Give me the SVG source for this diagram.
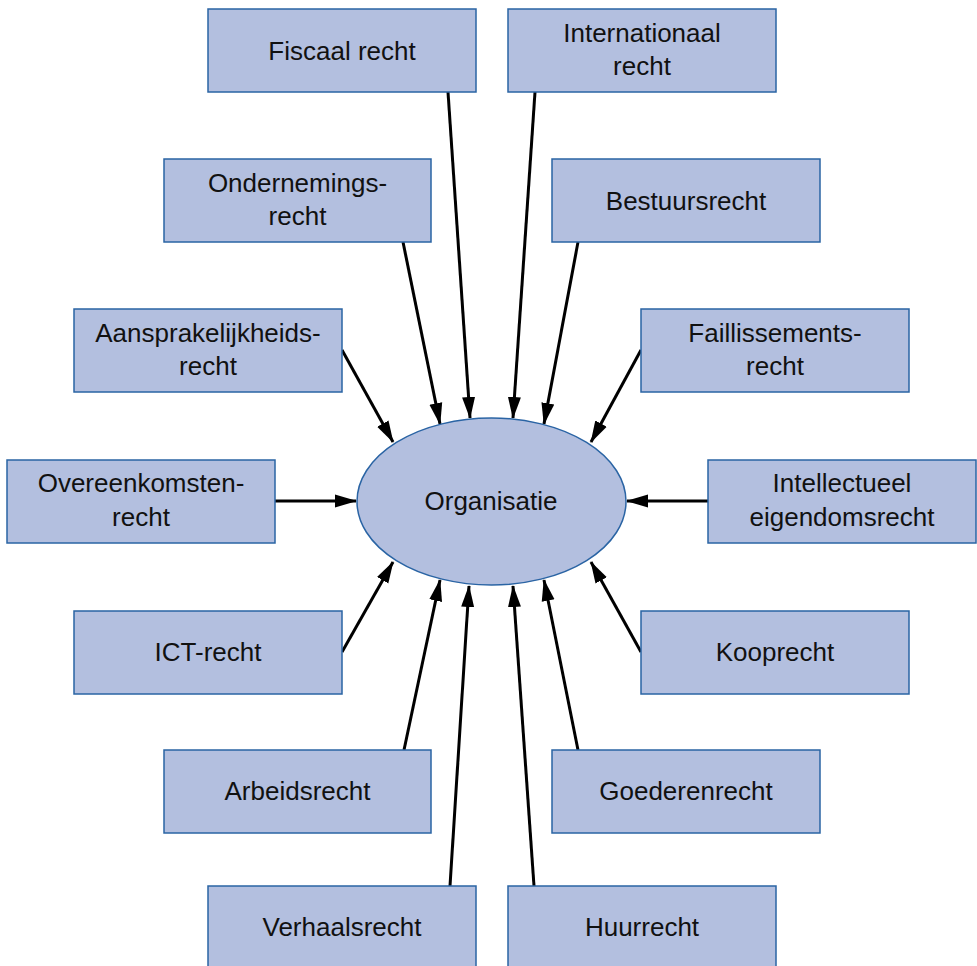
<svg xmlns="http://www.w3.org/2000/svg" width="977" height="966" viewBox="0 0 977 966">
<style>
.box{fill:#b3bfdf;stroke:#2a64a4;stroke-width:1.5}
.lbl{font-family:"Liberation Sans",Arial,sans-serif;font-size:26px;fill:#111;text-anchor:middle}
.con{stroke:#000;stroke-width:3;fill:none;marker-end:url(#ah)}
</style>
<defs>
<marker id="ah" markerUnits="userSpaceOnUse" markerWidth="22" markerHeight="14" refX="21" refY="6.5" orient="auto" viewBox="0 0 22 13">
<path d="M0,0 L22,6.5 L0,13 z" fill="#000"/>
</marker>
</defs>
<rect width="977" height="966" fill="#fff"/>
<g id="connectors">
<line class="con" x1="448" y1="92" x2="470" y2="418"/>
<line class="con" x1="535" y1="92" x2="513" y2="418"/>
<line class="con" x1="403" y1="242" x2="440" y2="424"/>
<line class="con" x1="578" y1="242" x2="544" y2="424"/>
<line class="con" x1="342" y1="350" x2="393" y2="442"/>
<line class="con" x1="641" y1="350" x2="591" y2="442"/>
<line class="con" x1="275" y1="501" x2="356" y2="501"/>
<line class="con" x1="708" y1="501" x2="627" y2="501"/>
<line class="con" x1="342" y1="652" x2="393" y2="562"/>
<line class="con" x1="641" y1="652" x2="591" y2="562"/>
<line class="con" x1="404" y1="750" x2="440" y2="580"/>
<line class="con" x1="578" y1="750" x2="544" y2="580"/>
<line class="con" x1="450" y1="886" x2="469" y2="586"/>
<line class="con" x1="534" y1="886" x2="513" y2="586"/>
</g>
<g id="organisatie">
<ellipse cx="491.5" cy="501.5" rx="134.5" ry="83.5" fill="#b3bfdf" stroke="#2a64a4" stroke-width="1.5"/>
<text class="lbl" x="491" y="510">Organisatie</text>
</g>
<g id="fiscaal"><rect class="box" x="208" y="9" width="268" height="83"/><text class="lbl" x="342" y="60">Fiscaal recht</text></g>
<g id="internationaal"><rect class="box" x="508" y="9" width="268" height="83"/><text class="lbl" x="642" y="42">Internationaal</text><text class="lbl" x="642" y="75">recht</text></g>
<g id="ondernemings"><rect class="box" x="164" y="159" width="267" height="83"/><text class="lbl" x="297.5" y="192">Ondernemings-</text><text class="lbl" x="297.5" y="225">recht</text></g>
<g id="bestuurs"><rect class="box" x="552" y="159" width="268" height="83"/><text class="lbl" x="686" y="210">Bestuursrecht</text></g>
<g id="aansprakelijkheids"><rect class="box" x="74" y="309" width="268" height="83"/><text class="lbl" x="208" y="342">Aansprakelijkheids-</text><text class="lbl" x="208" y="375">recht</text></g>
<g id="faillissements"><rect class="box" x="641" y="309" width="268" height="83"/><text class="lbl" x="775" y="342">Faillissements-</text><text class="lbl" x="775" y="375">recht</text></g>
<g id="overeenkomsten"><rect class="box" x="7" y="460" width="268" height="83"/><text class="lbl" x="141" y="492">Overeenkomsten-</text><text class="lbl" x="141" y="526">recht</text></g>
<g id="intellectueel"><rect class="box" x="708" y="460" width="268" height="83"/><text class="lbl" x="842" y="492">Intellectueel</text><text class="lbl" x="842" y="526">eigendomsrecht</text></g>
<g id="ict"><rect class="box" x="74" y="611" width="268" height="83"/><text class="lbl" x="208" y="661">ICT-recht</text></g>
<g id="koop"><rect class="box" x="641" y="611" width="268" height="83"/><text class="lbl" x="775" y="661">Kooprecht</text></g>
<g id="arbeids"><rect class="box" x="164" y="750" width="267" height="83"/><text class="lbl" x="297.5" y="800">Arbeidsrecht</text></g>
<g id="goederen"><rect class="box" x="552" y="750" width="268" height="83"/><text class="lbl" x="686" y="800">Goederenrecht</text></g>
<g id="verhaals"><rect class="box" x="208" y="886" width="268" height="83"/><text class="lbl" x="342" y="936">Verhaalsrecht</text></g>
<g id="huur"><rect class="box" x="508" y="886" width="268" height="83"/><text class="lbl" x="642" y="936">Huurrecht</text></g>
</svg>
